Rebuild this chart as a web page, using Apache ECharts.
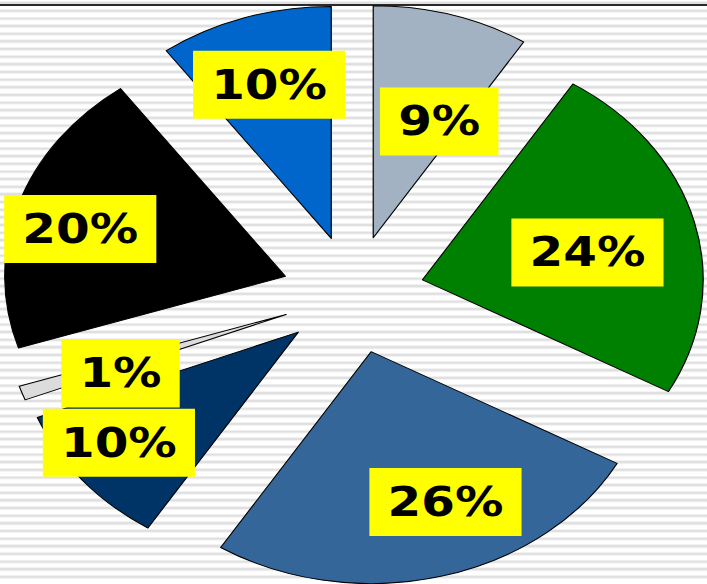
<!DOCTYPE html>
<html>
<head>
<meta charset="utf-8">
<script src="https://cdn.jsdelivr.net/npm/echarts@6/dist/echarts.min.js"></script>
<style>
html, body { margin: 0; padding: 0; width: 707px; height: 584px; overflow: hidden; background: #ffffff; }
#bg { position: absolute; left: 0; top: 0; width: 707px; height: 584px;
  background-image: repeating-linear-gradient(to bottom, #ffffff 0px, #ffffff 4.2px, #e8e8e8 4.2px, #dadada 5.5px, #e8e8e8 6.8px, #ffffff 7.65px);
  background-position: 0 -2.5px; }
#topline { position: absolute; left: 0; top: 4px; width: 707px; height: 2px; background: #2a2a2a; }
#wrap { position: absolute; left: 0; top: 0; width: 707px; height: 584px; overflow: hidden; }
#chart { position: absolute; left: 0; top: 0; width: 584px; height: 584px; transform: scaleX(1.21); transform-origin: 0 0; }
</style>
</head>
<body>
<div id="bg"></div>
<div id="topline"></div>
<div id="wrap"><div id="chart"></div></div>
<script>
// ---- data ----
const categories = ['Segment 1', 'Segment 2', 'Segment 3', 'Segment 4', 'Segment 5', 'Segment 6', 'Segment 7'];
const values = [9, 24, 26, 10, 1, 20, 10];
// ---- styles ----
const colors = ['#A3B2C2', '#008000', '#346699', '#003366', '#DCDCDC', '#000000', '#0066CC'];
// label placement (style only): distance from pie centre in px, and angular nudge from the slice bisector
const labelRadius = [187, 198, 221, 244, 208, 235, 221];
const labelNudge = [1.7, 0.6, -1.6, 0.6, -0.7, -0.5, -0.1];

const chart = echarts.init(document.getElementById('chart'), null, { renderer: 'svg' });

const center = [292, 294.5];
const radius = 232;
const offset = 59;
const total = values.reduce((a, b) => a + b, 0);

const sliceData = categories.map((name, i) => ({
  name: name,
  value: values[i],
  selected: true,
  itemStyle: { color: colors[i] }
}));

// label anchors in polar coordinates: [radius, angle(value units), value]
let cum = 0;
const labelData = values.map((v, i) => {
  const mid = cum + v / 2;
  cum += v;
  return [labelRadius[i], mid + labelNudge[i], v];
});

chart.setOption({
  animation: false,
  backgroundColor: 'transparent',
  polar: { center: center, radius: radius * 2 },
  angleAxis: { type: 'value', min: 0, max: total, startAngle: 90, clockwise: true, show: false },
  radiusAxis: { type: 'value', min: 0, max: radius * 2, show: false },
  series: [
    {
      type: 'pie',
      center: center,
      radius: [0, radius],
      startAngle: 90,
      clockwise: true,
      selectedMode: 'multiple',
      selectedOffset: offset,
      silent: true,
      itemStyle: { borderColor: '#000000', borderWidth: 1 },
      label: { show: false },
      labelLine: { show: false },
      emphasis: { disabled: true },
      select: { itemStyle: { borderColor: '#000000', borderWidth: 1 } },
      data: sliceData
    },
    {
      type: 'scatter',
      coordinateSystem: 'polar',
      z: 5,
      silent: true,
      clip: false,
      symbol: 'circle',
      symbolSize: 1,
      itemStyle: { color: 'rgba(0,0,0,0)', opacity: 1 },
      emphasis: { disabled: true },
      label: {
        show: true,
        position: 'inside',
        formatter: (p) => p.value[2] + '%',
        fontFamily: 'DejaVu Sans',
        fontWeight: 'bold',
        fontSize: 40,
        lineHeight: 40,
        color: '#000000',
        backgroundColor: '#FFFF00',
        padding: [14, 15]
      },
      data: labelData
    }
  ]
});
</script>
</body>
</html>
